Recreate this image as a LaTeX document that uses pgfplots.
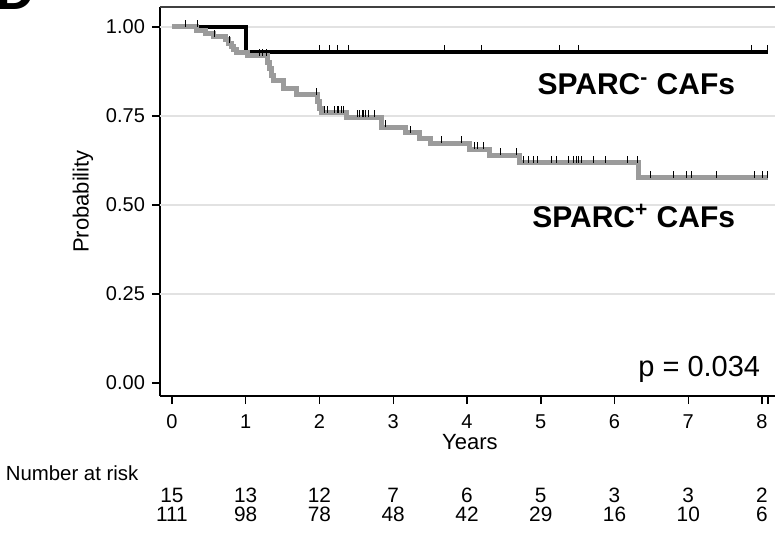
\documentclass[border=0pt]{standalone}
\usepackage{fontspec}
\setmainfont{Liberation Sans}
\usepackage{pgfplots}
\usepackage{pgfplotstable}
\pgfplotsset{compat=1.18}

\definecolor{curvegray}{RGB}{155,155,155}
\definecolor{gridgray}{RGB}{226,226,226}

\newcommand\ticksize{\fontsize{10}{12}\selectfont}
\newcommand\risksize{\fontsize{10.4}{12}\selectfont}
\newcommand\labsize{\fontsize{11}{13}\selectfont}

% censoring tick: a short stroke up from the curve
\pgfdeclareplotmark{cens}{%
  \pgfpathmoveto{\pgfpointorigin}%
  \pgfpathlineto{\pgfpoint{0pt}{2\pgfplotmarksize}}%
  \pgfusepathqstroke}

% Kaplan-Meier steps, SPARC+ CAFs
\pgfplotstableread{
t s
0.00 1.000
0.33 0.991
0.45 0.982
0.56 0.973
0.72 0.964
0.76 0.955
0.81 0.946
0.84 0.937
0.88 0.928
1.02 0.919
1.29 0.900
1.32 0.882
1.35 0.865
1.38 0.849
1.51 0.828
1.69 0.809
1.97 0.790
2.00 0.771
2.03 0.759
2.37 0.746
2.84 0.718
3.17 0.703
3.35 0.688
3.50 0.673
4.04 0.657
4.31 0.640
4.71 0.618
6.33 0.577
8.08 0.577
}\sparcpos

% SPARC- CAFs
\pgfplotstableread{
t s
0.00 1.000
1.01 0.929
8.08 0.929
}\sparcneg

% censored times
\pgfplotstableread{
t s
0.18 1.000
0.57 0.973
0.78 0.955
1.18 0.919
1.23 0.919
1.28 0.919
1.96 0.809
2.07 0.759
2.11 0.759
2.21 0.759
2.24 0.759
2.26 0.759
2.30 0.759
2.32 0.759
2.51 0.746
2.54 0.746
2.58 0.746
2.60 0.746
2.63 0.746
2.66 0.746
2.75 0.746
2.89 0.718
3.24 0.703
3.66 0.673
3.92 0.673
4.10 0.657
4.14 0.657
4.22 0.657
4.45 0.640
4.67 0.640
4.76 0.618
4.83 0.618
4.90 0.618
4.96 0.618
5.15 0.618
5.22 0.618
5.37 0.618
5.44 0.618
5.48 0.618
5.51 0.618
5.55 0.618
5.72 0.618
5.88 0.618
6.17 0.618
6.31 0.618
6.49 0.577
6.80 0.577
6.97 0.577
7.04 0.577
7.38 0.577
7.90 0.577
8.00 0.577
8.08 0.577
}\cenpos

\pgfplotstableread{
t s
0.35 1.000
2.00 0.929
2.13 0.929
2.25 0.929
2.39 0.929
3.69 0.929
4.20 0.929
5.26 0.929
5.51 0.929
7.86 0.929
8.07 0.929
}\cenneg

% number at risk
\pgfplotstableread{
t neg pos
0 15 111
1 13 98
2 12 78
3 7 48
4 6 42
5 5 29
6 3 16
7 3 10
8 2 6
}\risk

\begin{document}
\begin{tikzpicture}
\begin{axis}[
  scale only axis,
  width=307.5pt, height=194.5pt,
  xmin=-0.163, xmax=8.176,
  ymin=-0.0365, ymax=1.0562,
  clip=false,
  axis x line*=bottom,
  axis y line*=left,
  axis line style={line width=0.75pt, black},
  tick align=outside,
  major tick length=4pt,
  tick style={line width=0.75pt, black},
  xtick={0,1,2,3,4,5,6,7,8},
  ytick={0,0.25,0.5,0.75,1},
  extra x ticks={8.08},
  extra x tick labels={},
  extra y ticks={0.25,0.5,0.75,1},
  extra y tick labels={},
  extra y tick style={grid=major, major tick length=0pt},
  grid style={gridgray, line width=0.75pt},
  /pgf/number format/assume math mode=true,
  yticklabel style={/pgf/number format/fixed, /pgf/number format/fixed zerofill, /pgf/number format/precision=2},
  tick label style={font=\ticksize},
  xticklabel style={anchor=north, text height=7.2pt, text depth=0pt, yshift=-1.5pt},
  xlabel={Years},
  ylabel={Probability},
  xlabel style={at={(rel axis cs:0.504,-0.1386)}, anchor=base, font=\labsize, inner sep=0pt},
  ylabel style={at={(rel axis cs:-0.1252,0.5)}, anchor=center, font=\labsize},
]
\draw[black!75, line width=0.7pt] (rel axis cs:0,1) -- (rel axis cs:1,1);

\addplot[black, line width=2pt, const plot, mark=none] table[x=t, y=s] {\sparcneg};
\addplot[curvegray, line width=2.5pt, const plot, mark=none] table[x=t, y=s] {\sparcpos};
\addplot[only marks, mark=cens, mark size=1.75pt, mark options={black, line width=0.5pt}] table[x=t, y=s] {\cenneg};
\addplot[only marks, mark=cens, mark size=1.75pt, mark options={black, line width=0.5pt}] table[x=t, y=s] {\cenpos};

\node[anchor=base east, inner sep=0pt, font=\fontsize{15}{17}\selectfont\bfseries] at (axis cs:7.64,0.809) {SPARC\textsuperscript{-} CAFs};
\node[anchor=base east, inner sep=0pt, font=\fontsize{15}{17}\selectfont\bfseries] at (axis cs:7.64,0.438) {SPARC\textsuperscript{+} CAFs};
\node[anchor=base east, inner sep=0pt, font=\fontsize{14.5}{17}\selectfont] at (axis cs:7.98,0.017) {p = 0.034};

\node[anchor=base west, inner sep=0pt, font=\fontsize{10.2}{12}\selectfont] at (axis cs:-2.259,-0.2725) {Number at risk};
\addplot[draw=none, mark=none, nodes near coords, point meta=explicit symbolic,
  nodes near coords style={anchor=base, inner sep=0pt, font=\risksize}]
  table[x=t, y expr=-0.337, meta=neg] {\risk};
\addplot[draw=none, mark=none, nodes near coords, point meta=explicit symbolic,
  nodes near coords style={anchor=base, inner sep=0pt, font=\risksize}]
  table[x=t, y expr=-0.3904, meta=pos] {\risk};

\node[anchor=base west, inner sep=0pt, font=\fontsize{26.5}{30}\selectfont\bfseries] at (axis cs:-2.386,1.0478) {D};

\coordinate (bbl) at (axis cs:-2.332,-0.4242);
\coordinate (btr) at (axis cs:8.176,1.0758);
\end{axis}
\pgfresetboundingbox
\useasboundingbox (bbl) rectangle (btr);
\end{tikzpicture}
\end{document}
